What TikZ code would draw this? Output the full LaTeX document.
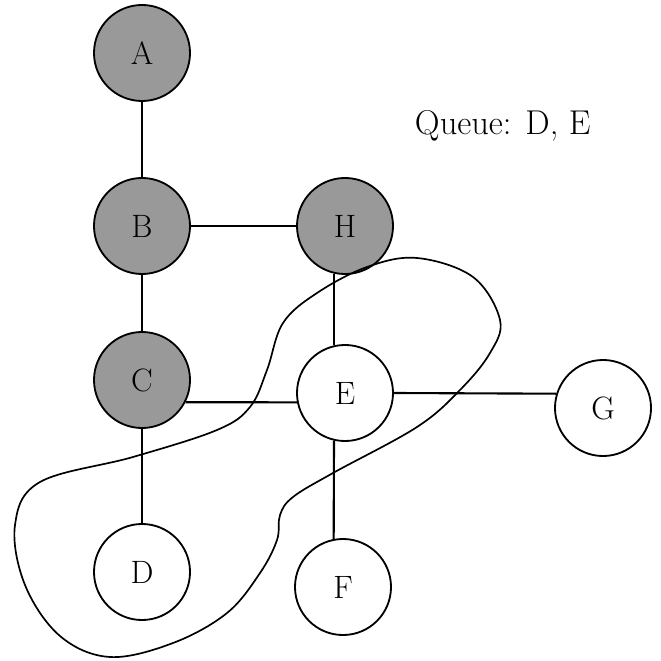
\documentclass[tikz,border=0pt]{standalone}
\usepackage{tikz}
\usetikzlibrary{shapes,positioning}

\begin{document}
\begin{tikzpicture}[x=0.025cm,y=-0.025cm,
  vertex/.style={circle,draw,line width=1.3pt,minimum size=2.4cm,inner sep=0pt,
    font=\fontsize{23}{27}\selectfont},
  visited/.style={vertex,fill=black!40},
  fresh/.style={vertex,fill=white},
  edge/.style={line width=1.5pt}]
\useasboundingbox (0,0) rectangle (660,661);

% Visited vertices
\node[visited] (A) at (142,53) {A};
\node[visited] (B) at (142,226) {B};
\node[visited] (H) at (345,226) {H};
\node[visited] (C) at (142,380) {C};

% Unvisited vertices
\node[fresh] (E) at (345,393) {E};
\node[fresh] (G) at (603,408) {G};
\node[fresh] (D) at (142,572) {D};
\node[fresh] (F) at (343,587) {F};

% Edges
\draw[edge] (A) -- (B);
\draw[edge] (B) -- (H);
\draw[edge] (B) -- (C);
\draw[edge] (C) -- (D);
\draw[edge] (C.-27) -- (E.191);
\draw[edge] (H.257) -- (E.103);
\draw[edge] (E.257) -- (F.101);
\draw[edge] (E.east) -- (G.163);

% Queue
\node[anchor=base west,font=\fontsize{24.5}{29}\selectfont] (queue) at (410,135) {Queue: D, E};

% Outline round the queued vertices
\draw[line width=1.2pt] plot[smooth cycle,tension=0.6] coordinates {
  (417,258) (473,277) (500,320) (490,353) (460,390) (417,427) (333,473)
  (293,497) (280,515) (277,540) (260,573) (227,613) (173,643) (110,657)
  (60,636) (25,585) (15,525) (40,482) (133,457) (217,430)
  (250,407) (267,370) (283,323) (317,293) (367,267)};
\end{tikzpicture}
\end{document}
